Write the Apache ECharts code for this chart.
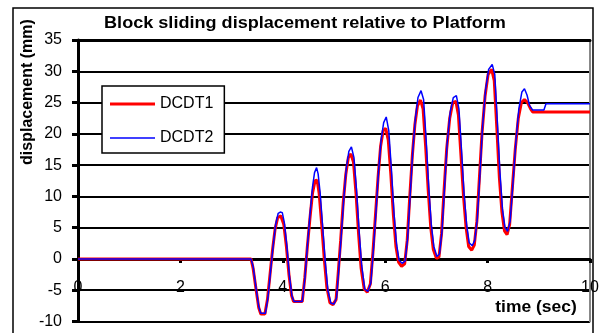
<!DOCTYPE html>
<html>
<head>
<meta charset="utf-8">
<script src="https://cdn.jsdelivr.net/npm/echarts@6/dist/echarts.min.js"></script>
<style>
  html, body { margin: 0; padding: 0; background: #fff; }
  #chart { width: 602px; height: 333px; }
</style>
</head>
<body>
<div id="chart"></div>
<script>
// time (sec) and displacement (mm)
const t1 = [0, 3.38, 3.42, 3.48, 3.53, 3.57, 3.65, 3.70, 3.75, 3.80, 3.85, 3.90, 3.96, 4.02, 4.07, 4.12, 4.17, 4.21, 4.38, 4.43, 4.48, 4.53, 4.58, 4.63, 4.67, 4.71, 4.76, 4.81, 4.86, 4.92, 4.98, 5.04, 5.08, 5.13, 5.18, 5.23, 5.28, 5.33, 5.38, 5.43, 5.48, 5.53, 5.59, 5.65, 5.71, 5.76, 5.81, 5.86, 5.91, 5.96, 6.01, 6.06, 6.11, 6.16, 6.21, 6.26, 6.32, 6.38, 6.43, 6.48, 6.53, 6.58, 6.63, 6.69, 6.74, 6.79, 6.84, 6.89, 6.94, 7.00, 7.05, 7.10, 7.15, 7.20, 7.26, 7.32, 7.38, 7.43, 7.48, 7.53, 7.58, 7.63, 7.69, 7.74, 7.79, 7.84, 7.89, 7.95, 8.01, 8.08, 8.13, 8.18, 8.23, 8.28, 8.33, 8.38, 8.43, 8.48, 8.54, 8.60, 8.66, 8.72, 8.78, 8.84, 8.88, 10];
const d1 = [0, 0, -1.5, -5, -7.8, -8.8, -8.8, -6.5, -2.5, 1.5, 4.8, 6.6, 6.9, 5.5, 2, -2.5, -5.8, -6.8, -6.8, -3, 2, 6.5, 10.5, 12.5, 12.6, 10.5, 5.5, 0, -4.5, -7.0, -7.3, -6.5, -2.5, 3, 9, 13.5, 16.2, 16.8, 15.5, 10.5, 4, -1.5, -4.8, -5.3, -4, 1, 7, 13, 18, 20.5, 20.9, 19, 13.5, 7, 2, -0.5, -1.2, -0.8, 3, 10, 16.5, 21.5, 24.5, 25.4, 24, 18, 11, 5, 1.5, 0.1, 0.3, 4, 11, 17.5, 22.5, 25, 25.2, 23, 16.5, 10, 5, 2, 1.4, 2.2, 6, 13, 20, 26, 29.5, 30.3, 28.5, 21, 13, 7.5, 4.5, 3.9, 5.5, 11, 17.5, 22.5, 25, 25.5, 25, 24, 23.5, 23.5];

const t2 = [0, 3.38, 3.42, 3.48, 3.53, 3.57, 3.66, 3.71, 3.76, 3.81, 3.86, 3.91, 3.95, 3.99, 4.03, 4.08, 4.13, 4.18, 4.22, 4.38, 4.43, 4.48, 4.53, 4.58, 4.62, 4.66, 4.69, 4.73, 4.78, 4.83, 4.88, 4.94, 5.00, 5.05, 5.09, 5.14, 5.19, 5.24, 5.29, 5.34, 5.39, 5.44, 5.49, 5.54, 5.60, 5.66, 5.72, 5.77, 5.82, 5.87, 5.92, 5.97, 6.02, 6.07, 6.12, 6.17, 6.22, 6.27, 6.33, 6.39, 6.44, 6.49, 6.54, 6.59, 6.64, 6.70, 6.75, 6.80, 6.85, 6.90, 6.95, 7.01, 7.06, 7.11, 7.16, 7.21, 7.27, 7.33, 7.39, 7.44, 7.49, 7.54, 7.59, 7.64, 7.70, 7.75, 7.80, 7.85, 7.90, 7.96, 8.02, 8.09, 8.14, 8.19, 8.24, 8.29, 8.34, 8.39, 8.44, 8.49, 8.55, 8.61, 8.67, 8.72, 8.77, 8.82, 8.88, 9.10, 9.14, 10];
const d2 = [0, 0, -1.2, -4.8, -7.6, -8.7, -8.7, -6.2, -2, 2, 5.5, 7.3, 7.5, 7.4, 5.8, 2, -2.8, -6, -6.8, -6.8, -3.2, 2, 7, 11.5, 13.8, 14.6, 13.6, 10.5, 5, -0.5, -5, -7.1, -7.2, -6.2, -2, 3.5, 9.5, 14.5, 17.2, 17.9, 16.2, 11, 4.5, -1, -4.8, -5.2, -3.8, 1.5, 7.5, 14, 19, 21.8, 22.7, 20.5, 14.5, 7.5, 2.5, -0.2, -0.7, -0.3, 3.5, 10.5, 17.5, 22.5, 25.8, 26.9, 25.5, 19, 11.5, 5.5, 2, 0.4, 0.8, 4.5, 11.5, 18.5, 23.5, 25.8, 26.1, 24, 17.5, 10.5, 5.5, 2.6, 2.1, 3, 6.5, 13.5, 21, 27, 30.3, 31.1, 29.5, 22, 14, 8, 5, 4.4, 6, 11.5, 18.5, 24, 26.7, 27.2, 26.2, 24.5, 23.8, 23.8, 24.8, 24.8];

const seriesNames = ['DCDT1', 'DCDT2'];
const titleText = 'Block sliding displacement relative to Platform';

const font = 'Arial, "Liberation Sans", sans-serif';
const pairs = (ts, vs) => ts.map((t, i) => [t, vs[i]]);

const chart = echarts.init(document.getElementById('chart'));

chart.setOption({
  animation: false,
  backgroundColor: '#fff',
  textStyle: { fontFamily: font, color: '#000' },
  legend: {
    orient: 'vertical',
    left: 102, top: 86,
    padding: [10, 11, 7, 8],
    itemGap: 18,
    itemWidth: 45, itemHeight: 14,
    backgroundColor: '#fff',
    borderColor: '#000', borderWidth: 1.5,
    textStyle: { fontSize: 16, color: '#000', fontFamily: font },
    data: [
      { name: seriesNames[0], icon: 'path://M0,0L45,0L45,3L0,3Z', itemStyle: { color: '#ff0000', borderWidth: 0 } },
      { name: seriesNames[1], icon: 'path://M0,0L90,0L90,3L0,3Z', itemStyle: { color: '#0000ff', borderWidth: 0 } }
    ]
  },
  grid: { left: 78, top: 40, width: 512, height: 281.5, show: false, outerBoundsMode: 'none', containLabel: false },
  xAxis: [{
    type: 'value', min: 0, max: 10, interval: 2,
    axisLine: { onZero: true, lineStyle: { color: '#000', width: 3 } },
    axisTick: { show: true, length: 4, lineStyle: { color: '#000', width: 3 } },
    axisLabel: { margin: -42, fontSize: 16, color: '#000', fontFamily: font, showMinLabel: true, showMaxLabel: true },
    splitLine: { show: false }
  }, {
    type: 'value', min: 0, max: 10, position: 'top',
    axisLine: { onZero: false, lineStyle: { color: '#000', width: 3 } },
    axisTick: { show: false }, axisLabel: { show: false }, splitLine: { show: false }
  }],
  yAxis: [{
    type: 'value', min: -10, max: 35, interval: 5,
    axisLine: { show: true, onZero: false, lineStyle: { color: '#000', width: 3 } },
    axisTick: { show: true, length: 6, lineStyle: { color: '#000', width: 3 } },
    axisLabel: { margin: 16, fontSize: 16, color: '#000', fontFamily: font },
    splitLine: { show: true, lineStyle: { color: '#000', width: 2 } }
  }, {
    type: 'value', min: -10, max: 35, position: 'right',
    axisLine: { show: true, onZero: false, lineStyle: { color: '#888', width: 2 } },
    axisTick: { show: false }, axisLabel: { show: false }, splitLine: { show: false }
  }],
  graphic: [
    {
      type: 'rect', z: -1, silent: true,
      shape: { x: 13, y: 8, width: 580, height: 340 },
      style: { fill: 'none', stroke: '#000', lineWidth: 1.5 }
    },
    {
      type: 'text', x: 305, y: 24, scaleX: 1.13,
      style: { text: titleText, fontSize: 16, fontWeight: 'bold', fontFamily: font, fill: '#000', align: 'center', verticalAlign: 'middle' }
    },
    {
      type: 'text', x: 28, y: 92, rotation: Math.PI / 2,
      style: { text: 'displacement (mm)', fontSize: 16, fontWeight: 'bold', fontFamily: font, fill: '#000', align: 'center', verticalAlign: 'middle' }
    },
    {
      type: 'text', x: 536, y: 308, scaleX: 1.09,
      style: { text: 'time (sec)', fontSize: 16, fontWeight: 'bold', fontFamily: font, fill: '#000', align: 'center', verticalAlign: 'middle' }
    }
  ],
  series: [
    {
      name: seriesNames[0], type: 'line', symbol: 'none', z: 2,
      lineStyle: { color: '#ff0000', width: 3 }, itemStyle: { color: '#ff0000' },
      data: pairs(t1, d1)
    },
    {
      name: seriesNames[1], type: 'line', symbol: 'none', z: 3,
      lineStyle: { color: '#0000ff', width: 1.5 }, itemStyle: { color: '#0000ff' },
      data: pairs(t2, d2)
    }
  ]
});
</script>
</body>
</html>
